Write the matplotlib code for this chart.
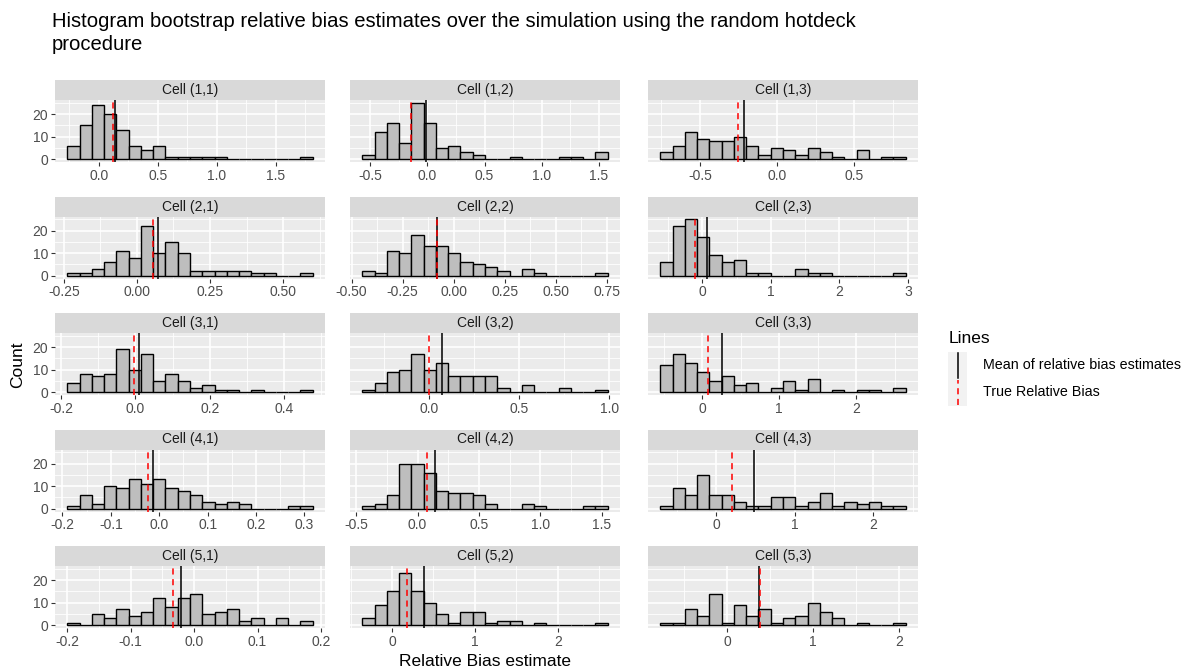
import numpy as np
import matplotlib.pyplot as plt

plt.rcParams["font.family"] = ["Liberation Sans", "DejaVu Sans"]
plt.rcParams["axes.unicode_minus"] = False

# ---- data (20 bins per cell) ----
cell_names = [f"Cell ({r},{c})" for r in range(1, 6) for c in range(1, 4)]

bin_lo = [-0.268, -0.570, -0.756,
          -0.238, -0.448, -0.614,
          -0.183, -0.370, -0.546,
          -0.190, -0.450, -0.710,
          -0.200, -0.359, -0.777]
bin_hi = [1.816, 1.577, 0.833,
          0.601, 0.754, 2.970,
          0.477, 0.992, 2.645,
          0.317, 1.550, 2.410,
          0.187, 2.602, 2.077]

counts = [
    [6, 15, 24, 20, 13, 6, 4, 6, 1, 1, 1, 1, 1, 0, 0, 0, 0, 0, 0, 1],
    [2, 12, 16, 7, 25, 16, 5, 6, 3, 2, 0, 0, 1, 0, 0, 0, 1, 1, 0, 3],
    [3, 6, 12, 9, 8, 8, 10, 6, 2, 5, 4, 2, 5, 3, 1, 0, 4, 0, 1, 1],
    [1, 1, 3, 6, 11, 8, 22, 10, 15, 10, 2, 2, 2, 2, 2, 1, 1, 0, 0, 1],
    [2, 1, 11, 10, 18, 13, 13, 10, 6, 5, 4, 2, 0, 3, 1, 0, 0, 0, 0, 1],
    [6, 22, 25, 17, 9, 6, 7, 1, 1, 0, 0, 3, 1, 1, 0, 0, 0, 0, 0, 1],
    [4, 8, 7, 8, 19, 10, 17, 5, 8, 5, 2, 3, 1, 1, 0, 1, 0, 0, 0, 1],
    [1, 4, 9, 10, 17, 10, 13, 7, 7, 7, 7, 2, 0, 3, 0, 0, 2, 0, 0, 1],
    [12, 17, 13, 9, 5, 7, 3, 4, 0, 2, 5, 1, 6, 0, 1, 0, 1, 1, 0, 2],
    [1, 6, 2, 10, 9, 13, 11, 13, 9, 8, 6, 3, 2, 3, 2, 0, 0, 0, 1, 1],
    [1, 2, 6, 20, 20, 16, 8, 7, 7, 6, 2, 0, 0, 2, 1, 0, 0, 0, 1, 1],
    [1, 9, 6, 15, 6, 6, 3, 1, 1, 5, 5, 1, 3, 7, 1, 3, 2, 3, 1, 1],
    [1, 0, 5, 3, 7, 4, 6, 12, 8, 12, 14, 5, 6, 7, 2, 3, 0, 3, 0, 2],
    [3, 9, 15, 23, 15, 10, 5, 1, 6, 6, 1, 2, 2, 0, 1, 0, 0, 0, 0, 1],
    [1, 1, 7, 4, 14, 1, 9, 4, 7, 1, 3, 4, 10, 6, 3, 0, 1, 0, 0, 1],
]

mean_rb = [0.139, -0.010, -0.214,
           0.071, -0.084, 0.072,
           0.010, 0.070, 0.258,
           -0.012, 0.143, 0.483,
           -0.020, 0.380, 0.373]
true_rb = [0.116, -0.143, -0.253,
           0.056, -0.084, -0.106,
           -0.004, 0.000, 0.073,
           -0.024, 0.078, 0.200,
           -0.034, 0.184, 0.381]

x_breaks = [[0.0, 0.5, 1.0, 1.5], [-0.5, 0.0, 0.5, 1.0, 1.5], [-0.5, 0.0, 0.5],
            [-0.25, 0.0, 0.25, 0.5], [-0.5, -0.25, 0.0, 0.25, 0.5, 0.75], [0, 1, 2, 3],
            [-0.2, 0.0, 0.2, 0.4], [0.0, 0.5, 1.0], [0, 1, 2],
            [-0.2, -0.1, 0.0, 0.1, 0.2, 0.3], [-0.5, 0.0, 0.5, 1.0, 1.5], [0, 1, 2],
            [-0.2, -0.1, 0.0, 0.1, 0.2], [0, 1, 2], [0, 1, 2]]
x_decimals = [1, 1, 1, 2, 2, 0, 1, 1, 0, 1, 1, 0, 1, 0, 0]

y_breaks = [0, 10, 20]

# ---- figure layout (pixel based, ggplot look) ----
W, H = 1187, 669
fig = plt.figure(figsize=(W / 100, H / 100), dpi=100)

col_x = [55, 350, 648]
panel_w = 270
strip_h = 20
panel_h = 62
row_top = [80, 196.5, 313, 429.5, 546]

BG = "#EBEBEB"
STRIP = "#D9D9D9"
TXT = "#4D4D4D"


def px_axes(x, y, w, h):
    return fig.add_axes([x / W, 1 - (y + h) / H, w / W, h / H])


max_count = max(max(c) for c in counts)
ylo, yhi = -0.05 * max_count, 1.05 * max_count

for i, name in enumerate(cell_names):
    r, c = divmod(i, 3)
    x0, y0 = col_x[c], row_top[r]

    # strip
    sax = px_axes(x0, y0, panel_w, strip_h)
    sax.set_facecolor(STRIP)
    sax.set_xticks([]); sax.set_yticks([])
    for s in sax.spines.values():
        s.set_visible(False)
    sax.text(0.5, 0.5, name, ha="center", va="center", fontsize=10, color="#1A1A1A",
             transform=sax.transAxes)

    ax = px_axes(x0, y0 + strip_h, panel_w, panel_h)
    ax.set_facecolor(BG)
    for s in ax.spines.values():
        s.set_visible(False)

    edges = np.linspace(bin_lo[i], bin_hi[i], 21)
    span = bin_hi[i] - bin_lo[i]
    xlo, xhi = bin_lo[i] - 0.05 * span, bin_hi[i] + 0.05 * span

    # grid: minor then major
    br = np.array(x_breaks[i], dtype=float)
    step = br[1] - br[0]
    minors = np.arange(br[0] - step / 2, xhi + step, step)
    for m in minors:
        if xlo < m < xhi:
            ax.axvline(m, color="white", lw=0.6, zorder=0)
    for m in [5, 15, 25]:
        ax.axhline(m, color="white", lw=0.6, zorder=0)
    for b in br:
        ax.axvline(b, color="white", lw=1.2, zorder=0)
    for b in y_breaks:
        ax.axhline(b, color="white", lw=1.2, zorder=0)

    ax.bar(edges[:-1], counts[i], width=np.diff(edges), align="edge",
           color="#BEBEBE", edgecolor="black", linewidth=1.0, zorder=2)

    ax.axvline(mean_rb[i], color="black", lw=1.1, zorder=3)
    ax.axvline(true_rb[i], color="red", lw=1.1, ls=(0, (4, 3)), zorder=4)

    ax.set_xlim(xlo, xhi)
    ax.set_ylim(ylo, yhi)
    ax.set_xticks(br)
    ax.set_xticklabels([f"{b:.{x_decimals[i]}f}" for b in br])
    ax.tick_params(axis="x", length=3, width=0.8, color="#333333", labelsize=10,
                   labelcolor=TXT, pad=2)
    if c == 0:
        ax.set_yticks(y_breaks)
        ax.tick_params(axis="y", length=3, width=0.8, color="#333333", labelsize=10,
                       labelcolor=TXT, pad=2)
    else:
        ax.set_yticks([])

# titles
fig.text(52 / W, 1 - 12 / H,
         "Histogram bootstrap relative bias estimates over the simulation using the random hotdeck\nprocedure",
         ha="left", va="top", fontsize=14.6, color="black", linespacing=1.25)
fig.text(485 / W, 1 - 661 / H, "Relative Bias estimate", ha="center", va="center",
         fontsize=12.5, color="black")
fig.text(18 / W, 1 - 365 / H, "Count", ha="center", va="center", rotation=90,
         fontsize=12.5, color="black")

# legend
fig.text(949 / W, 1 - 338 / H, "Lines", ha="left", va="center", fontsize=12.5)
lax = px_axes(948, 352, 19, 54)
lax.set_xlim(0, 1); lax.set_ylim(0, 2)
lax.set_facecolor("#F2F2F2")
lax.set_xticks([]); lax.set_yticks([])
for s in lax.spines.values():
    s.set_visible(False)
lax.plot([0.5, 0.5], [1.05, 1.95], color="black", lw=1.1)
lax.plot([0.5, 0.5], [0.05, 0.95], color="red", lw=1.1, ls=(0, (4, 3)))
fig.text(983 / W, 1 - 365 / H, "Mean of relative bias estimates", ha="left",
         va="center", fontsize=10.3, color="black")
fig.text(983 / W, 1 - 392 / H, "True Relative Bias", ha="left", va="center",
         fontsize=10.3, color="black")

fig.savefig("out.png", dpi=100)
